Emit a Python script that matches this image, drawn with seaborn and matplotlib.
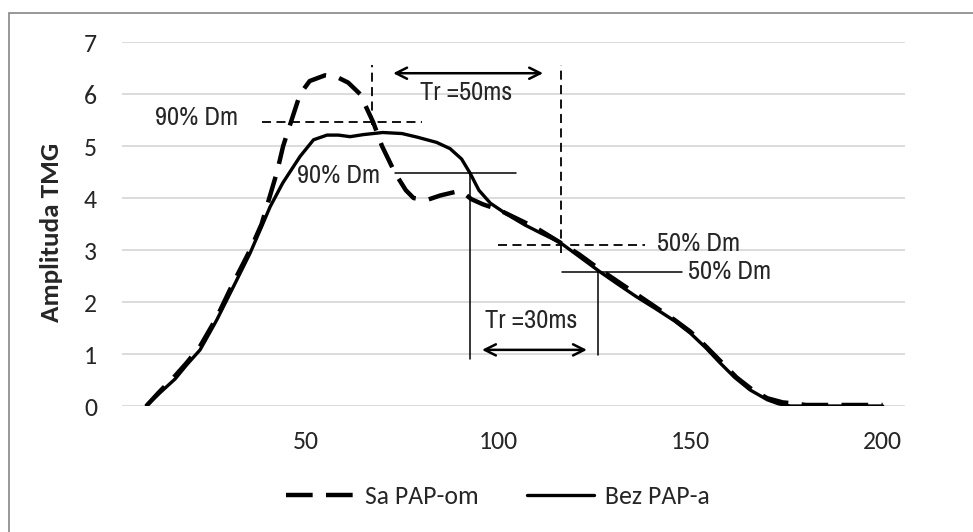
import pandas as pd
import seaborn as sns
import matplotlib.pyplot as plt
from matplotlib.patches import Rectangle

# Data (time in ms, TMG amplitude)
x_pap = [8.5, 12, 16, 19, 22.5, 26.8, 31, 35.5, 38.5, 40.5, 42.5, 44.1, 46.3, 48.5, 51, 55,
         58, 61, 64.1, 67.5, 69.8, 73.2, 76, 78, 81.4, 85, 89, 91, 93, 96, 100, 105, 110,
         116, 121, 126, 131, 136, 141, 146, 150, 154, 158, 162, 166, 170, 174, 177, 180,
         185, 192, 200]
y_pap = [0, 0.28, 0.58, 0.83, 1.15, 1.7, 2.35, 3.0, 3.5, 4.0, 4.5, 5.0, 5.5, 6.0, 6.25, 6.36,
         6.33, 6.22, 6.0, 5.46, 5.0, 4.48, 4.15, 4.0, 3.96, 4.05, 4.12, 4.1, 3.98, 3.88, 3.78,
         3.6, 3.42, 3.15, 2.92, 2.65, 2.4, 2.15, 1.9, 1.65, 1.43, 1.15, 0.85, 0.55, 0.32,
         0.15, 0.07, 0.05, 0.02, 0.02, 0.02, 0.02]

x_bez = [8.5, 12, 16, 19, 22.5, 26.8, 31, 35.5, 38.5, 40.7, 44, 48.5, 52, 55.5, 58.5, 61.5,
         65, 70, 75, 79, 84, 87.5, 90.5, 92.7, 95, 98, 102, 107, 111, 116, 121, 126.5, 131,
         136, 141, 146, 150, 154, 157.7, 161.5, 165.5, 170, 173, 176, 185, 192, 200]
y_bez = [0, 0.25, 0.52, 0.79, 1.08, 1.65, 2.27, 2.94, 3.45, 3.83, 4.29, 4.8, 5.12, 5.21, 5.21,
         5.18, 5.22, 5.26, 5.24, 5.17, 5.07, 4.95, 4.75, 4.48, 4.15, 3.9, 3.7, 3.48, 3.33,
         3.15, 2.88, 2.58, 2.35, 2.1, 1.87, 1.63, 1.4, 1.12, 0.83, 0.55, 0.31, 0.12, 0.04,
         0, 0, 0, 0]

series_names = ['Sa PAP-om', 'Bez PAP-a']
y_ticks = [0, 1, 2, 3, 4, 5, 6, 7]
x_ticks = [50, 100, 150, 200]

sns.set_style('white')
plt.rcParams['font.family'] = ['Carlito', 'Lato', 'DejaVu Sans']
narrow = ['Archivo Narrow', 'DejaVu Sans']

fig = plt.figure(figsize=(9.73, 5.32), dpi=100)
ax = fig.add_axes([0.1254, 0.2368, 0.8047, 0.6842])

sns.lineplot(x=x_pap, y=y_pap, ax=ax, color='black', lw=3.2, linestyle=(0, (6, 3)),
             label=series_names[0], estimator=None, sort=False)
sns.lineplot(x=x_bez, y=y_bez, ax=ax, color='black', lw=2.4, label=series_names[1],
             estimator=None, sort=False)

ax.set_xlim(2.2, 205.8)
ax.set_ylim(0, 7)
ax.set_yticks(y_ticks)
ax.set_xticks(x_ticks)
ax.yaxis.grid(True, color='#d9d9d9', lw=1.3)
ax.set_axisbelow(True)
for s in ax.spines.values():
    s.set_visible(False)
ax.tick_params(axis='both', length=0, labelsize=18.5)
ax.tick_params(axis='y', pad=18)
ax.tick_params(axis='x', pad=17)
ax.set_xlabel('')
ax.set_ylabel('Amplituda TMG', fontsize=19.5, fontweight='bold')
ax.yaxis.set_label_coords(-0.075, 0.478)

# annotations
dash = (0, (5, 3))
ax.plot([38.6, 80.2], [5.46, 5.46], color='black', lw=1.3, linestyle=dash)
ax.plot([67.2, 67.2], [5.4, 6.56], color='black', lw=1.3, linestyle=dash)
ax.plot([116.4, 116.4], [2.95, 6.56], color='black', lw=1.3, linestyle=dash)
ax.plot([100, 138.2], [3.1, 3.1], color='black', lw=1.3, linestyle=dash)
ax.plot([73.2, 104.7], [4.48, 4.48], color='black', lw=1.1)
ax.plot([92.7, 92.7], [0.9, 4.48], color='black', lw=1.1)
ax.plot([116.6, 147.8], [2.58, 2.58], color='black', lw=1.1)
ax.plot([125.9, 125.9], [0.98, 2.58], color='black', lw=1.1)

arrow = dict(arrowstyle='<->', lw=1.8, color='black', shrinkA=0, shrinkB=0, mutation_scale=20)
ax.annotate('', xy=(111.7, 6.4), xytext=(72.7, 6.4), arrowprops=arrow)
ax.annotate('', xy=(123.1, 1.08), xytext=(95.8, 1.08), arrowprops=arrow)

ax.text(32.4, 5.54, '90% Dm', ha='right', va='center', fontsize=19, family=narrow)
ax.text(69.3, 4.44, '90% Dm', ha='right', va='center', fontsize=19, family=narrow)
ax.text(91.7, 6.02, 'Tr =50ms', ha='center', va='center', fontsize=19, family=narrow)
ax.text(108.6, 1.65, 'Tr =30ms', ha='center', va='center', fontsize=19, family=narrow)
ax.text(141.3, 3.13, '50% Dm', ha='left', va='center', fontsize=19, family=narrow)
ax.text(149.4, 2.58, '50% Dm', ha='left', va='center', fontsize=19, family=narrow)

handles, labels = ax.get_legend_handles_labels()
ax.get_legend().remove()
fig.legend(handles, labels, loc='center', bbox_to_anchor=(0.512, 0.066), ncol=2,
           frameon=False, fontsize=18.5, handlelength=2.6, handletextpad=0.45,
           columnspacing=1.9)

fig.add_artist(Rectangle((9 / 973, -0.1), 1.2, 1.1 - 13 / 532, transform=fig.transFigure,
                         fill=False, edgecolor='#868686', lw=1.2))

fig.savefig('out.png', dpi=100)
